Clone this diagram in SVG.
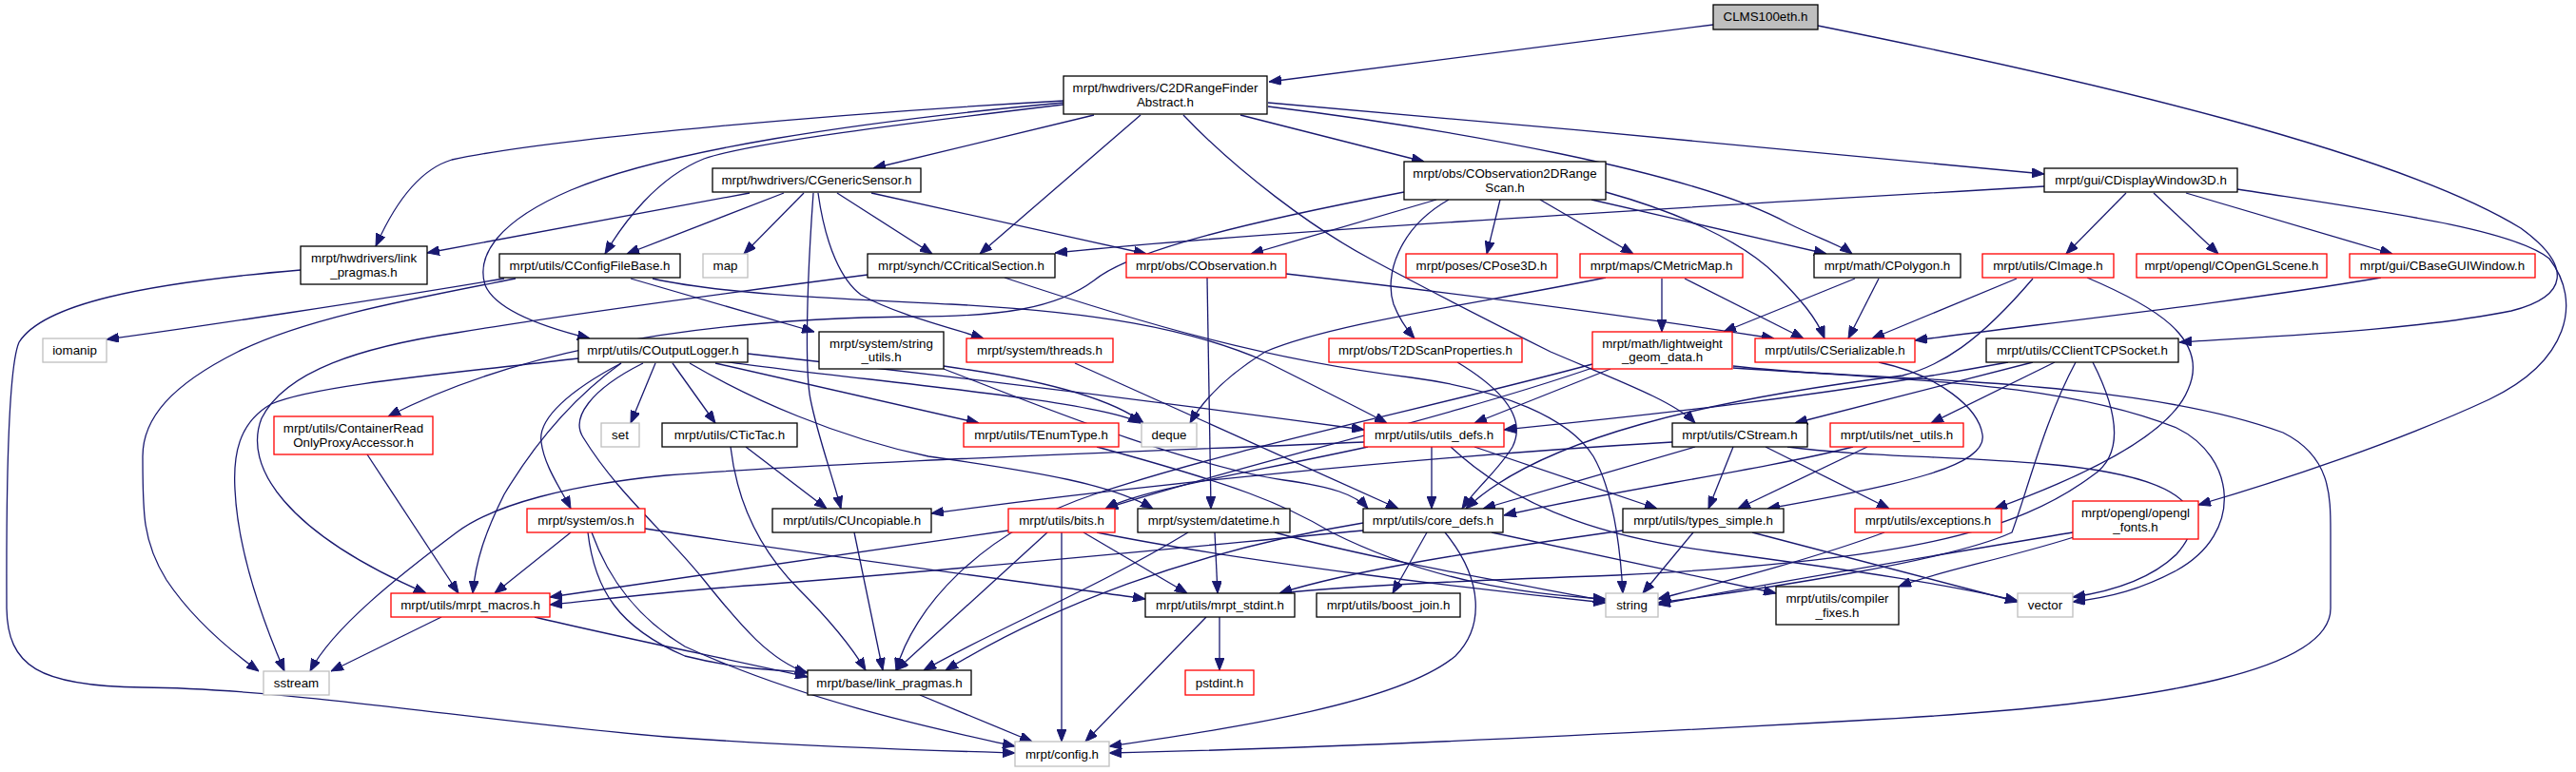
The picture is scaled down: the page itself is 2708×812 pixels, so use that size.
<svg xmlns="http://www.w3.org/2000/svg" width="2708" height="812" viewBox="0 0 2708 812">
<style>
.n rect{fill:#ffffff;stroke:#000000;stroke-width:1.3}
.n.r rect{stroke:#ff0000}
.n.g rect{stroke:#bfbfbf}
.n.root rect{fill:#bfbfbf}
.n text{font-family:"Liberation Sans",Arial,sans-serif;font-size:13.33px;text-anchor:middle;fill:#000000}
#edges path{fill:none;stroke:#191970;stroke-width:1.3;marker-end:url(#a)}
</style>
<defs>
<marker id="a" viewBox="0 0 13 10" markerWidth="13" markerHeight="10" refX="13" refY="5" markerUnits="userSpaceOnUse" orient="auto">
<path d="M0,0 L13,5 L0,10 z" fill="#191970" stroke="#191970" stroke-width="1"/>
</marker>
</defs>
<rect width="2708" height="812" fill="#ffffff"/>
<g id="edges">
<path d="M1801,26 L1334,86"/>
<path d="M1911,27 C2200,85 2520,160 2650,240 C2705,280 2700,312 2640,327 C2540,347 2400,353 2291,360"/>
<path d="M1118,106 C900,118 580,145 475,168 C435,180 410,225 395,259"/>
<path d="M1118,110 C950,130 790,150 740,167 C690,187 655,235 636,267"/>
<path d="M1118,108 C900,128 700,158 600,200 C525,232 500,268 510,300 C522,328 575,345 620,356"/>
<path d="M1150,121 L918,177"/>
<path d="M1199,121 L1030,267"/>
<path d="M1244,121 C1300,180 1380,240 1440,272 C1520,315 1580,345 1630,370 C1700,400 1760,422 1782,445"/>
<path d="M1304,121 L1497,170"/>
<path d="M1333,112 C1520,135 1780,180 1880,235 C1910,250 1935,258 1947,267"/>
<path d="M1333,108 C1600,130 1900,160 2149,183"/>
<path d="M788,203 L449,266"/>
<path d="M824,203 L659,267"/>
<path d="M845,203 L782,267"/>
<path d="M880,203 L980,267"/>
<path d="M916,203 L1205,267"/>
<path d="M855,203 C848,300 846,390 852,420 C860,460 875,500 884,535"/>
<path d="M860,203 C868,260 885,295 905,310 C940,330 1000,345 1034,356"/>
<path d="M1510,210 L1315,267"/>
<path d="M1577,210 L1563,267"/>
<path d="M1619,210 L1717,267"/>
<path d="M1673,210 L1920,267"/>
<path d="M1688,202 C1760,222 1830,252 1868,290 C1893,315 1910,335 1918,356"/>
<path d="M1523,210 C1470,240 1455,290 1465,320 C1472,338 1480,348 1487,356"/>
<path d="M1476,202 C1320,232 1190,262 1150,295 C1110,325 1050,333 960,333 C760,335 560,360 408,438"/>
<path d="M2149,196 C1700,222 1300,246 1109,266"/>
<path d="M2235,203 L2172,267"/>
<path d="M2264,203 L2332,267"/>
<path d="M2298,203 L2515,267"/>
<path d="M2352,199 C2500,222 2640,240 2680,272 C2715,318 2700,380 2617,420 C2520,465 2400,505 2311,531"/>
<path d="M316,284 C150,298 45,320 20,360 C5,395 7,600 7,640 C8,700 40,722 150,723 C300,724 500,758 700,775 C850,786 1000,790 1067,792"/>
<path d="M530,293 C400,315 200,345 112,357"/>
<path d="M542,293 C430,315 320,335 250,370 C180,405 150,440 150,480 C150,540 150,570 175,610 C205,655 250,690 272,706"/>
<path d="M663,293 L856,349"/>
<path d="M686,293 C760,310 900,315 1000,320 C1150,328 1250,345 1330,380 C1380,405 1430,430 1458,445"/>
<path d="M1056,292 C1200,340 1330,378 1483,397 C1580,410 1650,440 1675,480 C1695,515 1703,570 1706,624"/>
<path d="M912,289 C750,310 600,330 480,350 C380,365 300,390 275,440 C255,490 300,560 448,624"/>
<path d="M608,377 C480,392 330,405 285,425 C250,445 245,480 247,515 C250,580 275,650 299,706"/>
<path d="M653,382 C600,410 565,440 569,465 C572,490 590,515 600,535"/>
<path d="M653,382 C600,420 560,470 530,520 C510,560 500,590 497,624"/>
<path d="M689,382 L663,445"/>
<path d="M707,382 L752,445"/>
<path d="M725,382 C790,420 880,460 976,480 C1096,497 1170,510 1212,535"/>
<path d="M752,382 L1029,445"/>
<path d="M760,380 C900,400 1150,420 1199,445"/>
<path d="M786,372 C950,390 1200,420 1434,452"/>
<path d="M676,382 C620,410 600,440 613,460 C650,520 700,560 740,610 C780,660 810,695 849,708"/>
<path d="M992,385 C1100,400 1170,420 1202,445"/>
<path d="M992,388 C1100,430 1250,490 1350,505 C1400,512 1425,520 1438,535"/>
<path d="M784,470 L869,535"/>
<path d="M768,470 C775,530 800,580 840,620 C870,650 895,680 910,705"/>
<path d="M898,560 L928,705"/>
<path d="M386,478 L482,624"/>
<path d="M600,560 L520,624"/>
<path d="M678,556 C900,590 1100,615 1204,630"/>
<path d="M622,560 C640,610 670,650 720,680 C850,740 1000,770 1067,785"/>
<path d="M618,560 C625,620 650,660 720,690 C780,705 820,705 849,707"/>
<path d="M464,649 L348,706"/>
<path d="M562,649 C650,670 750,690 849,712"/>
<path d="M1060,558 L578,628"/>
<path d="M1433,558 C1200,580 1000,600 800,615 C700,622 620,632 578,636"/>
<path d="M1101,560 L942,705"/>
<path d="M1116,560 L1116,780"/>
<path d="M1139,560 L1248,624"/>
<path d="M1153,560 C1300,590 1550,620 1688,634"/>
<path d="M1277,560 L1280,624"/>
<path d="M1249,560 C1150,620 1050,660 971,705"/>
<path d="M1340,560 C1450,590 1600,615 1688,632"/>
<path d="M1500,560 L1464,624"/>
<path d="M1519,560 C1560,610 1560,660 1530,690 C1470,740 1300,765 1166,785"/>
<path d="M1568,560 L1867,624"/>
<path d="M1433,550 C1250,580 1100,640 994,705"/>
<path d="M1130,382 L1470,535"/>
<path d="M1153,470 C1300,510 1350,530 1400,560 C1500,610 1600,625 1688,630"/>
<path d="M1269,292 L1273,535"/>
<path d="M1352,288 C1500,305 1700,330 1865,356"/>
<path d="M1688,292 C1550,320 1400,340 1330,370 C1290,395 1265,420 1251,445"/>
<path d="M1747,293 L1747,349"/>
<path d="M1771,293 L1896,356"/>
<path d="M1950,293 L1812,349"/>
<path d="M1975,293 L1943,356"/>
<path d="M2120,293 L1968,356"/>
<path d="M2137,293 C2080,360 2040,385 2000,395 C1800,420 1620,460 1541,535"/>
<path d="M2194,292 C2260,320 2325,355 2300,410 C2280,460 2180,505 2097,535"/>
<path d="M2503,292 C2350,318 2150,340 2013,358"/>
<path d="M1532,381 C1580,410 1605,440 1590,470 C1575,495 1550,515 1537,535"/>
<path d="M1693,388 L1550,445"/>
<path d="M1674,383 C1500,430 1300,470 1150,520 C1030,560 960,640 942,705"/>
<path d="M1674,387 C1520,440 1300,490 1162,535"/>
<path d="M1822,387 C2000,400 2250,400 2400,455 C2450,480 2450,520 2450,560 L2450,640 C2450,700 2300,740 1950,758 C1700,772 1400,787 1166,792"/>
<path d="M1822,385 C1950,400 2150,395 2288,450 C2350,480 2360,560 2288,600 C2250,620 2220,628 2179,633"/>
<path d="M1505,470 L1505,535"/>
<path d="M1438,470 C1300,500 1200,515 1162,535"/>
<path d="M1550,470 L1742,535"/>
<path d="M1525,470 C1600,540 1700,567 1800,580 C1950,600 2050,615 2121,632"/>
<path d="M1434,465 C1200,475 900,485 700,500 C600,510 520,530 480,560 C420,605 350,660 326,706"/>
<path d="M1758,465 C1500,480 1200,510 979,540"/>
<path d="M1782,470 L1559,535"/>
<path d="M1822,470 L1796,535"/>
<path d="M1856,470 L1986,535"/>
<path d="M1879,470 C1950,480 2060,480 2150,488 C2288,500 2332,533 2288,583 C2260,610 2220,622 2179,628"/>
<path d="M1963,470 L1827,535"/>
<path d="M1948,470 C1850,495 1700,515 1581,542"/>
<path d="M2111,381 C1900,420 1700,440 1581,452"/>
<path d="M2137,381 L1887,445"/>
<path d="M2160,381 L2030,445"/>
<path d="M2182,381 C2150,440 2130,520 2115,560 C2050,590 1850,620 1743,634"/>
<path d="M2200,381 C2230,440 2230,480 2200,500 C2120,560 2000,590 1700,605 C1500,612 1400,618 1345,624"/>
<path d="M1975,381 C2040,395 2080,430 2084,457 C2090,490 2000,510 1858,535"/>
<path d="M1706,558 C1550,580 1420,600 1345,624"/>
<path d="M1780,560 L1727,624"/>
<path d="M1842,560 L2121,633"/>
<path d="M1981,560 C1900,590 1800,615 1743,630"/>
<path d="M2179,560 C2000,590 1850,615 1743,636"/>
<path d="M2180,565 C2100,590 2040,600 1996,617"/>
<path d="M1282,649 L1282,705"/>
<path d="M1268,649 L1141,780"/>
<path d="M967,731 L1085,780"/>
</g>
<g id="n0" class="n root"><rect x="1801" y="5" width="110" height="26"/><text x="1856" y="22">CLMS100eth.h</text></g>
<g id="n1" class="n"><rect x="1118" y="80" width="214" height="40"/><text x="1225" y="97">mrpt/hwdrivers/C2DRangeFinder</text><text x="1225" y="111.5">Abstract.h</text></g>
<g id="n2" class="n"><rect x="749" y="177" width="219" height="25"/><text x="858.5" y="194">mrpt/hwdrivers/CGenericSensor.h</text></g>
<g id="n3" class="n"><rect x="1476" y="170" width="212" height="40"/><text x="1582" y="187">mrpt/obs/CObservation2DRange</text><text x="1582" y="201.5">Scan.h</text></g>
<g id="n4" class="n"><rect x="2149" y="177" width="203" height="25"/><text x="2250.5" y="194">mrpt/gui/CDisplayWindow3D.h</text></g>
<g id="n5" class="n"><rect x="316" y="259" width="133" height="40"/><text x="382.5" y="276">mrpt/hwdrivers/link</text><text x="382.5" y="290.5">_pragmas.h</text></g>
<g id="n6" class="n"><rect x="525" y="267" width="190" height="25"/><text x="620" y="284">mrpt/utils/CConfigFileBase.h</text></g>
<g id="n7" class="n g"><rect x="739" y="267" width="47" height="25"/><text x="762.5" y="284">map</text></g>
<g id="n8" class="n"><rect x="912" y="267" width="197" height="25"/><text x="1010.5" y="284">mrpt/synch/CCriticalSection.h</text></g>
<g id="n9" class="n r"><rect x="1184" y="267" width="168" height="25"/><text x="1268" y="284">mrpt/obs/CObservation.h</text></g>
<g id="n10" class="n r"><rect x="1478" y="267" width="159" height="25"/><text x="1557.5" y="284">mrpt/poses/CPose3D.h</text></g>
<g id="n11" class="n r"><rect x="1661" y="267" width="171" height="25"/><text x="1746.5" y="284">mrpt/maps/CMetricMap.h</text></g>
<g id="n12" class="n"><rect x="1907" y="267" width="154" height="25"/><text x="1984" y="284">mrpt/math/CPolygon.h</text></g>
<g id="n13" class="n r"><rect x="2084" y="267" width="138" height="25"/><text x="2153" y="284">mrpt/utils/CImage.h</text></g>
<g id="n14" class="n r"><rect x="2246" y="267" width="200" height="25"/><text x="2346" y="284">mrpt/opengl/COpenGLScene.h</text></g>
<g id="n15" class="n r"><rect x="2470" y="267" width="195" height="25"/><text x="2567.5" y="284">mrpt/gui/CBaseGUIWindow.h</text></g>
<g id="n16" class="n g"><rect x="45" y="356" width="67" height="25"/><text x="78.5" y="373">iomanip</text></g>
<g id="n17" class="n"><rect x="608" y="356" width="178" height="25"/><text x="697" y="373">mrpt/utils/COutputLogger.h</text></g>
<g id="n18" class="n"><rect x="861" y="349" width="131" height="39"/><text x="926.5" y="366">mrpt/system/string</text><text x="926.5" y="380">_utils.h</text></g>
<g id="n19" class="n r"><rect x="1016" y="356" width="154" height="25"/><text x="1093" y="373">mrpt/system/threads.h</text></g>
<g id="n20" class="n r"><rect x="1397" y="356" width="203" height="25"/><text x="1498.5" y="373">mrpt/obs/T2DScanProperties.h</text></g>
<g id="n21" class="n r"><rect x="1674" y="349" width="147" height="39"/><text x="1747.5" y="366">mrpt/math/lightweight</text><text x="1747.5" y="380">_geom_data.h</text></g>
<g id="n22" class="n r"><rect x="1845" y="356" width="168" height="25"/><text x="1929" y="373">mrpt/utils/CSerializable.h</text></g>
<g id="n23" class="n"><rect x="2088" y="356" width="202" height="25"/><text x="2189" y="373">mrpt/utils/CClientTCPSocket.h</text></g>
<g id="n24" class="n r"><rect x="288" y="438" width="167" height="40"/><text x="371.5" y="455">mrpt/utils/ContainerRead</text><text x="371.5" y="469.5">OnlyProxyAccessor.h</text></g>
<g id="n25" class="n g"><rect x="632" y="445" width="40" height="25"/><text x="652" y="462">set</text></g>
<g id="n26" class="n"><rect x="696" y="445" width="142" height="25"/><text x="767" y="462">mrpt/utils/CTicTac.h</text></g>
<g id="n27" class="n r"><rect x="1013" y="445" width="163" height="25"/><text x="1094.5" y="462">mrpt/utils/TEnumType.h</text></g>
<g id="n28" class="n g"><rect x="1200" y="445" width="58" height="25"/><text x="1229" y="462">deque</text></g>
<g id="n29" class="n r"><rect x="1434" y="445" width="147" height="25"/><text x="1507.5" y="462">mrpt/utils/utils_defs.h</text></g>
<g id="n30" class="n"><rect x="1758" y="445" width="142" height="25"/><text x="1829" y="462">mrpt/utils/CStream.h</text></g>
<g id="n31" class="n r"><rect x="1924" y="445" width="140" height="25"/><text x="1994" y="462">mrpt/utils/net_utils.h</text></g>
<g id="n32" class="n r"><rect x="554" y="535" width="124" height="25"/><text x="616" y="552">mrpt/system/os.h</text></g>
<g id="n33" class="n"><rect x="812" y="535" width="167" height="25"/><text x="895.5" y="552">mrpt/utils/CUncopiable.h</text></g>
<g id="n34" class="n r"><rect x="1060" y="535" width="112" height="25"/><text x="1116" y="552">mrpt/utils/bits.h</text></g>
<g id="n35" class="n"><rect x="1196" y="535" width="160" height="25"/><text x="1276" y="552">mrpt/system/datetime.h</text></g>
<g id="n36" class="n"><rect x="1433" y="535" width="147" height="25"/><text x="1506.5" y="552">mrpt/utils/core_defs.h</text></g>
<g id="n37" class="n"><rect x="1706" y="535" width="169" height="25"/><text x="1790.5" y="552">mrpt/utils/types_simple.h</text></g>
<g id="n38" class="n r"><rect x="1950" y="535" width="154" height="25"/><text x="2027" y="552">mrpt/utils/exceptions.h</text></g>
<g id="n39" class="n r"><rect x="2179" y="527" width="132" height="40"/><text x="2245" y="544">mrpt/opengl/opengl</text><text x="2245" y="558.5">_fonts.h</text></g>
<g id="n40" class="n r"><rect x="411" y="624" width="167" height="25"/><text x="494.5" y="641">mrpt/utils/mrpt_macros.h</text></g>
<g id="n41" class="n"><rect x="1204" y="624" width="157" height="25"/><text x="1282.5" y="641">mrpt/utils/mrpt_stdint.h</text></g>
<g id="n42" class="n"><rect x="1384" y="624" width="151" height="25"/><text x="1459.5" y="641">mrpt/utils/boost_join.h</text></g>
<g id="n43" class="n g"><rect x="1688" y="624" width="55" height="25"/><text x="1715.5" y="641">string</text></g>
<g id="n44" class="n"><rect x="1867" y="617" width="129" height="40"/><text x="1931.5" y="634">mrpt/utils/compiler</text><text x="1931.5" y="648.5">_fixes.h</text></g>
<g id="n45" class="n g"><rect x="2121" y="624" width="58" height="25"/><text x="2150" y="641">vector</text></g>
<g id="n46" class="n g"><rect x="277" y="706" width="69" height="25"/><text x="311.5" y="723">sstream</text></g>
<g id="n47" class="n"><rect x="849" y="705" width="172" height="26"/><text x="935" y="723">mrpt/base/link_pragmas.h</text></g>
<g id="n48" class="n r"><rect x="1246" y="705" width="72" height="26"/><text x="1282" y="723">pstdint.h</text></g>
<g id="n49" class="n g"><rect x="1067" y="780" width="99" height="26"/><text x="1116.5" y="798">mrpt/config.h</text></g>
</svg>
